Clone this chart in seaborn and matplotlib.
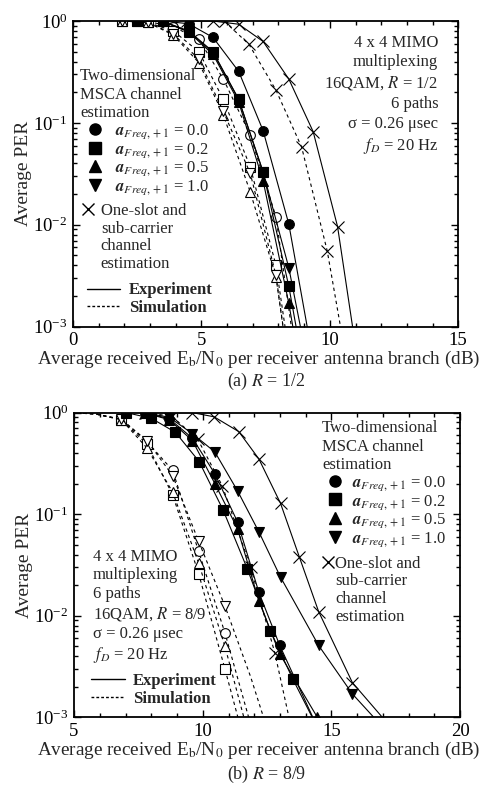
import numpy as np
import pandas as pd
import matplotlib
matplotlib.use("Agg")
import matplotlib.pyplot as plt
import seaborn as sns
from matplotlib.lines import Line2D
from matplotlib.ticker import LogLocator, MultipleLocator, NullFormatter

sns.set_theme(style="ticks")
plt.rcParams["font.family"] = ["Liberation Serif", "DejaVu Serif"]
plt.rcParams["mathtext.fontset"] = "stix"
plt.rcParams["font.size"] = 12

# ---------------- (a) R = 1/2 ----------------
a_exp_x = [2.5, 3.5, 4.5, 5.45, 6.45, 7.4, 8.4, 9.4]
a_exp_a00 = [1.0, 1.0, 0.94, 0.69, 0.32, 0.084, 0.0102, 4e-4]
a_exp_a02 = [1.0, 0.99, 0.80, 0.50, 0.17, 0.033, 0.0025, 1e-4]
a_exp_a05 = [1.0, 0.99, 0.78, 0.47, 0.16, 0.027, 0.0017, 6e-5]
a_exp_a10 = [1.0, 0.99, 0.79, 0.49, 0.17, 0.033, 0.0038, 2e-4]
a_sim_x = [1.9, 2.9, 3.9, 4.9, 5.85, 6.9, 7.9, 8.9]
a_sim_a00 = [1.0, 0.99, 0.88, 0.66, 0.27, 0.076, 0.012, 1.9e-4]
a_sim_a02 = [1.0, 0.97, 0.80, 0.50, 0.17, 0.037, 0.004, 8e-5]
a_sim_a05 = [1.0, 0.97, 0.73, 0.39, 0.12, 0.021, 0.0031, 5e-5]
a_sim_a10 = [1.0, 0.97, 0.75, 0.42, 0.13, 0.032, 0.0032, 5e-5]
a_conv_exp_x = [4.45, 5.45, 6.45, 7.4, 8.4, 9.35, 10.3, 11.3]
a_conv_exp = [1.0, 1.0, 0.93, 0.63, 0.27, 0.082, 0.0096, 2e-4]
a_conv_sim_x = [5.9, 6.85, 7.9, 8.9, 9.9, 10.9]
a_conv_sim = [0.99, 0.59, 0.21, 0.058, 0.0055, 2e-4]

# ---------------- (b) R = 8/9 ----------------
b_exp_x_a00 = [7.74, 8.7, 9.6, 10.47, 11.35, 12.18, 12.99, 14.45]
b_exp_a00 = [1.0, 0.87, 0.56, 0.25, 0.084, 0.017, 0.0051, 8e-4]
b_exp_x_a02 = [7.03, 8.0, 8.94, 9.86, 10.79, 11.73, 12.63, 13.49, 15.3]
b_exp_a02 = [1.0, 0.88, 0.64, 0.33, 0.11, 0.029, 0.0071, 0.0024, 3e-4]
b_exp_x_a05 = [7.74, 8.7, 9.6, 10.47, 11.35, 12.18, 12.99, 14.45]
b_exp_a05 = [1.0, 0.85, 0.53, 0.20, 0.072, 0.014, 0.0042, 1.0e-3]
b_exp_x_a10 = [7.74, 8.7, 9.6, 10.47, 11.35, 12.18, 13.02, 14.5, 15.81, 17.2]
b_exp_a10 = [1.0, 0.9, 0.62, 0.41, 0.17, 0.067, 0.024, 0.0051, 0.0017, 7e-4]
b_sim_x = [4.84, 5.84, 6.84, 7.83, 8.83, 9.84, 10.86, 11.86]
b_sim_a00 = [1.0, 0.97, 0.86, 0.52, 0.27, 0.043, 0.0068, 8.5e-4]
b_sim_a02 = [1.0, 0.97, 0.85, 0.49, 0.155, 0.026, 0.003, 3.4e-4]
b_sim_a05 = [1.0, 0.97, 0.85, 0.45, 0.165, 0.033, 0.005, 5.6e-4]
b_sim_x_a10 = [4.84, 5.84, 6.84, 7.83, 8.83, 9.84, 10.86, 11.86, 12.86]
b_sim_a10 = [1.0, 0.97, 0.86, 0.53, 0.24, 0.054, 0.0125, 2.5e-3, 4e-4]
b_conv_exp_x = [7.74, 8.7, 9.6, 10.44, 11.4, 12.18, 13.02, 13.75, 14.5, 15.81, 17.5]
b_conv_exp = [1.0, 1.0, 1.0, 0.91, 0.65, 0.35, 0.128, 0.038, 0.011, 0.0022, 7e-4]
b_conv_sim_x = [7.8, 8.8, 9.8, 10.76, 11.86, 12.8, 13.8]
b_conv_sim = [1.0, 0.92, 0.55, 0.19, 0.03, 0.0043, 3e-4]

a_labels = ["0.0", "0.2", "0.5", "1.0"]

fig = plt.figure(figsize=(4.87, 7.96), dpi=100)
ax1 = fig.add_axes([0.150, 0.5896, 0.791, 0.384])
ax2 = fig.add_axes([0.152, 0.0989, 0.793, 0.3827])

LW = 0.8
MS = 7
DASH = (0, (3, 3))


def draw(ax, x, y, marker, filled, ls, markevery=None, ms=MS):
    sns.lineplot(x=x, y=y, ax=ax, color="black", linestyle=ls, linewidth=LW,
                 marker=marker, markersize=ms,
                 markerfacecolor="black" if filled else "white",
                 markeredgecolor="black", markeredgewidth=0.8,
                 sort=False, estimator=None, legend=False,
                 markevery=markevery)


# top
draw(ax1, a_sim_x, a_sim_a00, "o", False, DASH)
draw(ax1, a_sim_x, a_sim_a02, "s", False, DASH)
draw(ax1, a_sim_x, a_sim_a05, "^", False, DASH)
draw(ax1, a_sim_x, a_sim_a10, "v", False, DASH)
draw(ax1, a_conv_sim_x, a_conv_sim, "x", False, DASH, ms=8)
draw(ax1, a_exp_x, a_exp_a00, "o", True, "-")
draw(ax1, a_exp_x, a_exp_a02, "s", True, "-")
draw(ax1, a_exp_x, a_exp_a05, "^", True, "-")
draw(ax1, a_exp_x, a_exp_a10, "v", True, "-")
draw(ax1, a_conv_exp_x, a_conv_exp, "x", False, "-", ms=8)

# bottom
vis = [2, 3, 4, 5, 6]
draw(ax2, b_sim_x, b_sim_a00, "o", False, DASH, markevery=vis)
draw(ax2, b_sim_x, b_sim_a02, "s", False, DASH, markevery=vis)
draw(ax2, b_sim_x, b_sim_a05, "^", False, DASH, markevery=vis)
draw(ax2, b_sim_x_a10, b_sim_a10, "v", False, DASH, markevery=vis)
draw(ax2, b_conv_sim_x, b_conv_sim, "x", False, DASH, ms=8)
draw(ax2, b_exp_x_a00, b_exp_a00, "o", True, "-")
draw(ax2, b_exp_x_a02, b_exp_a02, "s", True, "-")
draw(ax2, b_exp_x_a05, b_exp_a05, "^", True, "-")
draw(ax2, b_exp_x_a10, b_exp_a10, "v", True, "-")
draw(ax2, b_conv_exp_x, b_conv_exp, "x", False, "-", ms=8)

xlab = r"Average received E$_\mathrm{b}$/N$_0$ per receiver antenna branch (dB)"
for ax, (x0, x1), xc in [(ax1, (0, 15), 0.482), (ax2, (5, 20), 0.478)]:
    ax.set_yscale("log")
    ax.set_ylim(1e-3, 1)
    ax.set_xlim(x0, x1)
    ax.set_xticks([x0, x0 + 5, x0 + 10, x0 + 15])
    ax.xaxis.set_minor_locator(MultipleLocator(1))
    ax.yaxis.set_major_locator(LogLocator(base=10, numticks=10))
    ax.yaxis.set_minor_locator(LogLocator(base=10, subs=np.arange(2, 10), numticks=20))
    ax.yaxis.set_minor_formatter(NullFormatter())
    ax.tick_params(which="both", direction="in", top=True, right=True, labelsize=13.5,
                   colors="black", width=1.0, pad=4)
    ax.tick_params(which="major", length=5)
    ax.tick_params(which="minor", length=3)
    for s in ax.spines.values():
        s.set_color("black")
        s.set_linewidth(1.3)
    ax.set_xlabel(xlab, fontsize=13.8, labelpad=0)
    ax.set_ylabel("Average PER", fontsize=14, labelpad=1)
    ax.xaxis.label.set_x(xc)

fig.text(0.547, 0.5205, r"(a) $R$ = 1/2", ha="center", va="center", fontsize=13)
fig.text(0.547, 0.027, r"(b) $R$ = 8/9", ha="center", va="center", fontsize=13)

# text blocks
ax1.text(0.948, 0.955,
         "4 x 4 MIMO\nmultiplexing\n16QAM, $R$ = 1/2\n6 paths\nσ = 0.26 μsec\n$f_D$ = 20 Hz",
         transform=ax1.transAxes, ha="right", va="top", fontsize=12, linespacing=1.3)
ax2.text(0.049, 0.553,
         "4 x 4 MIMO\nmultiplexing\n6 paths\n16QAM, $R$ = 8/9\nσ = 0.26 μsec\n$f_D$ = 20 Hz",
         transform=ax2.transAxes, ha="left", va="top", fontsize=12, linespacing=1.22)

# legends
fill_markers = ["o", "s", "^", "v"]


def marker_handles():
    return [Line2D([], [], ls="none", marker=m, color="black", markersize=8) for m in fill_markers]


def a_texts():
    return [r"$\boldsymbol{a}_{Freq,+1}$ = " + v for v in a_labels]


def conv_handles():
    h = [Line2D([], [], ls="none", marker="x", color="black", markersize=9, markeredgewidth=1.0)]
    h += [Line2D([], [], ls="none") for _ in range(3)]
    return h


conv_labels = ["One-slot and", "sub-carrier", "channel", "estimation"]
hdr = "Two-dimensional\nMSCA channel\nestimation"


def line_handles():
    return [Line2D([], [], color="black", lw=1.0, ls="-"),
            Line2D([], [], color="black", lw=1.0, ls=(0, (2, 1.5)))]


base = dict(frameon=False, borderpad=0, borderaxespad=0, loc="upper left")

# top
lg1 = ax1.legend(marker_handles(), a_texts(), title=hdr, title_fontsize=12, alignment="left",
                 bbox_to_anchor=(0.018, 0.845), handlelength=1.8, handletextpad=0.3,
                 fontsize=12, labelspacing=0.0, **base)
lg1._legend_box.sep = 1
ax1.add_artist(lg1)
lg2 = ax1.legend(conv_handles(), conv_labels, bbox_to_anchor=(0.018, 0.405), handlelength=1.0,
                 handletextpad=0.25, fontsize=12, labelspacing=0.1, **base)
ax1.add_artist(lg2)
lg3 = ax1.legend(line_handles(), ["Experiment", "Simulation"], bbox_to_anchor=(0.036, 0.145),
                 handlelength=2.0, handletextpad=0.5, prop={"weight": "bold", "size": 12},
                 labelspacing=0.1, **base)

# bottom
lg4 = ax2.legend(marker_handles(), a_texts(), title=hdr, title_fontsize=12, alignment="left",
                 bbox_to_anchor=(0.642, 0.975), handlelength=1.55, handletextpad=0.25,
                 fontsize=12, labelspacing=0.0, **base)
lg4._legend_box.sep = 1
ax2.add_artist(lg4)
lg5 = ax2.legend(conv_handles(), conv_labels, bbox_to_anchor=(0.642, 0.53), handlelength=0.7,
                 handletextpad=0.1, fontsize=12, labelspacing=0.1, **base)
ax2.add_artist(lg5)
lg6 = ax2.legend(line_handles(), ["Experiment", "Simulation"], bbox_to_anchor=(0.045, 0.145),
                 handlelength=2.0, handletextpad=0.5, prop={"weight": "bold", "size": 12},
                 labelspacing=0.1, **base)

fig.savefig("out.png", dpi=100, facecolor="white")
